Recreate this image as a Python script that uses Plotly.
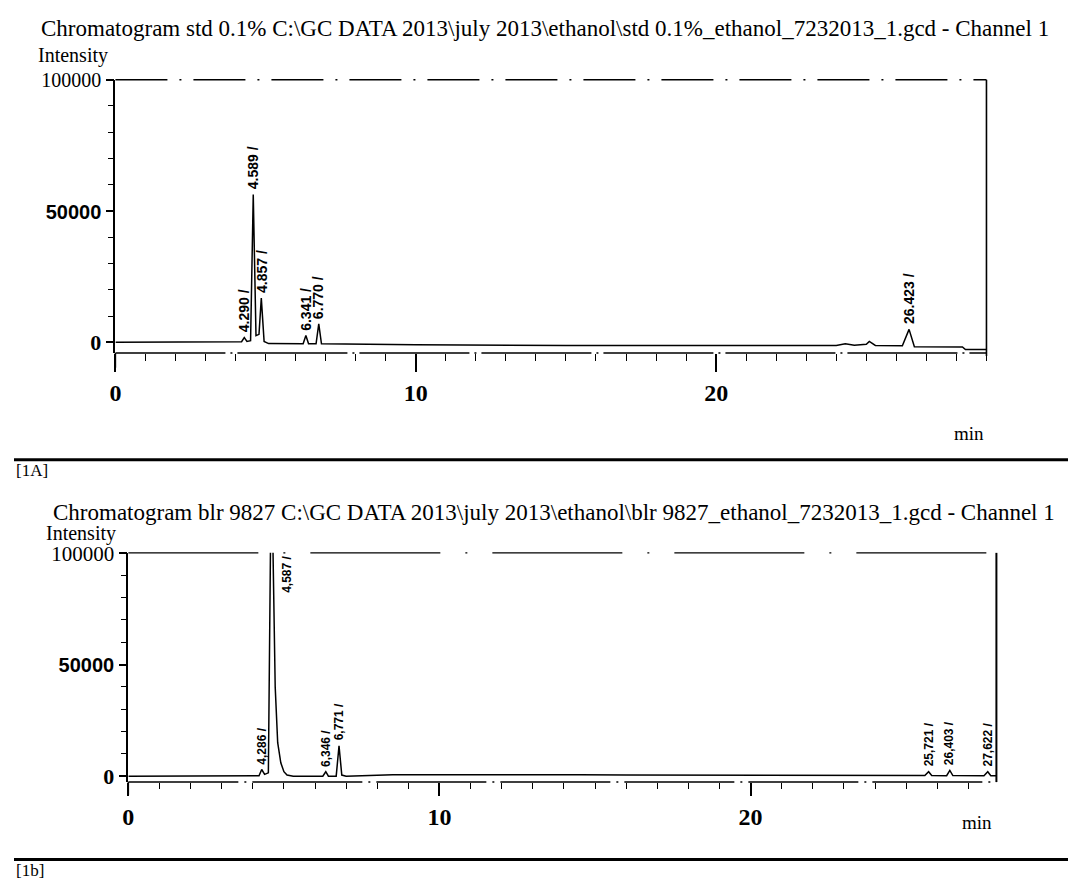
import plotly.graph_objects as go

PAGE_W, PAGE_H = 1076, 896
OFF = 8  # default body margin of the page
W, H = PAGE_W - 2 * OFF, PAGE_H - 2 * OFF

title_a = "Chromatogram std 0.1% C:\\GC DATA 2013\\july 2013\\ethanol\\std 0.1%_ethanol_7232013_1.gcd - Channel 1"
title_b = "Chromatogram blr 9827 C:\\GC DATA 2013\\july 2013\\ethanol\\blr 9827_ethanol_7232013_1.gcd - Channel 1"

# ---- chromatogram A (std 0.1%) : retention time (min) / intensity ----
time_a = [0.0, 2.0, 4.1, 4.2, 4.29, 4.38, 4.5, 4.589, 4.68, 4.78, 4.857, 4.95, 5.1,
          6.0, 6.25, 6.341, 6.43, 6.68, 6.77, 6.86, 8.0, 10.0, 15.0, 20.0,
          24.0, 24.3, 24.6, 25.0, 25.1, 25.3, 26.2, 26.423, 26.6, 28.2, 28.3, 29.05]
int_a = [0, 0, 0, 200, 1800, 300, 600, 56300, 2500, 3000, 16800, 300, -500,
         -600, -600, 2600, -600, -600, 7000, -600, -800, -1000, -1200, -1300,
         -1200, -600, -1100, -800, 300, -1200, -1300, 4900, -1700, -1800, -2800, -2800]

peak_a_t = [4.290, 4.589, 4.857, 6.341, 6.770, 26.423]
peak_a_y = [1800, 56300, 16800, 2600, 7000, 4900]
peak_a_txt = ["4.290 /", "4.589 /", "4.857 /", "6.341 /", "6.770 /", "26.423 /"]

# ---- chromatogram B (blr 9827) ----
time_b = [0.0, 2.0, 4.0, 4.2, 4.286, 4.38, 4.5, 4.587, 4.65, 4.72, 4.8, 4.9, 5.0, 5.1, 5.3,
          6.0, 6.25, 6.346, 6.43, 6.68, 6.771, 6.86, 7.0, 8.5, 10.0, 12.5, 13.0, 13.5, 14.5, 16.0,
          20.0, 25.0, 25.6, 25.721, 25.82, 26.3, 26.403, 26.5, 27.5, 27.622, 27.72, 27.9]
int_b = [0, 0, 0, 200, 3000, 800, 1500, 130000, 100000, 40000, 15000, 6000, 2000, 500, 0,
         0, 0, 2000, 0, 0, 13600, 500, 0, 600, 600, 600, 900, 800, 600, 500,
         400, 300, 300, 2000, 300, 200, 2600, 300, 200, 2000, 200, 200]

peak_b_t = [4.286, 6.346, 6.771, 25.721, 26.403, 27.622]
peak_b_y = [3000, 2000, 13600, 2000, 2600, 2000]
peak_b_txt = ["4,286 /", "6,346 /", "6,771 /", "25,721 /", "26,403 /", "27,622 /"]
main_b_t, main_b_label_y, main_b_txt = 5.1, 81000, "4,587 /"

x_ticks = [0, 10, 20]
y_ticks = [0, 50000, 100000]


def px(x):
    return (x - OFF) / W


def py(y):
    return 1 - (y - OFF) / H


fig = go.Figure()
fig.add_trace(go.Scatter(x=time_a, y=int_a, mode="lines", line=dict(color="black", width=1.5),
                         xaxis="x", yaxis="y", showlegend=False, hoverinfo="skip"))
fig.add_trace(go.Scatter(x=time_b, y=int_b, mode="lines", line=dict(color="black", width=1.5),
                         xaxis="x2", yaxis="y2", showlegend=False, hoverinfo="skip"))

SERIF = "Liberation Serif"
SANS = "Liberation Sans"


def ytext(big):
    return ["<b>0</b>",
            "<span style='font-family:Liberation Sans;font-size:20px'><b>50000</b></span>",
            f"<span style='font-size:{big}px'>100000</span>"]


def xaxis_cfg(domain, rng, major_len, minor_len):
    return dict(domain=domain, range=rng, showline=False, showgrid=False, zeroline=False,
                ticks="outside", tickvals=x_ticks, ticktext=[f"<b>{v}</b>" for v in x_ticks],
                ticklen=major_len, tickwidth=1.5, tickcolor="black",
                tickfont=dict(family=SERIF, size=24, color="black"),
                minor=dict(dtick=1, ticks="outside", ticklen=minor_len, tickwidth=1.2, tickcolor="black"),
                fixedrange=True)


def yaxis_cfg(domain, rng, anchor, big):
    return dict(domain=domain, range=rng, anchor=anchor, showline=True, linecolor="black", linewidth=1.5,
                showgrid=False, zeroline=False, ticks="outside", tickvals=y_ticks, ticktext=ytext(big),
                ticklen=8, tickwidth=1.5, tickcolor="black",
                tickfont=dict(family=SERIF, size=22, color="black"),
                minor=dict(dtick=10000, ticks="outside", ticklen=6, tickwidth=1.2, tickcolor="black"),
                fixedrange=True)


# panel A geometry (page px): x 110..986, frame top 70, axis line 349, zero at 338
xa_dom = [px(110), px(986)]
ya_dom = [py(349), py(70)]
# panel B geometry: x 123..996, frame top 553, axis line 787, zero at 781
xb_dom = [px(123), px(996)]
yb_dom = [py(787), py(553)]

fig.update_layout(
    width=W, height=H, margin=dict(l=0, r=0, t=0, b=0),
    paper_bgcolor="white", plot_bgcolor="white",
    xaxis=dict(**xaxis_cfg(xa_dom, [0, 29.0], 18, 7), anchor="y"),
    yaxis=yaxis_cfg(ya_dom, [-4104, 100000], "x", 20),
    xaxis2=dict(**xaxis_cfg(xb_dom, [0, 27.9], 13, 6), anchor="y2"),
    yaxis2=yaxis_cfg(yb_dom, [-2632, 100000], "x2", 21),
)

shapes = []


def hline(x0, x1, y, w=1.5, dash="solid"):
    shapes.append(dict(type="line", xref="paper", yref="paper", x0=px(x0), x1=px(x1), y0=py(y), y1=py(y),
                       line=dict(color="black", width=w, dash=dash)))


def vline(x, y0, y1, w=1.5):
    shapes.append(dict(type="line", xref="paper", yref="paper", x0=px(x), x1=px(x), y0=py(y0), y1=py(y1),
                       line=dict(color="black", width=w)))


# panel A frame
hline(110, 986, 70, 1.3, "52px,12px,2px,12px")
vline(986, 70, 352, 1.6)
hline(110, 986, 349, 1.5, "110px,5px,2px,5px")
vline(110, 349, 364)
# panel B frame
hline(123, 996, 553, 1.3, "130px,25px,2px,25px")
vline(996, 553, 787, 2)
hline(123, 996, 787, 1.5, "110px,6px,2px,6px")
vline(123, 787, 800)
# separator rules
hline(OFF, PAGE_W, 458, 3)
hline(OFF, PAGE_W, 866, 3)
fig.update_layout(shapes=shapes)

ann = []


def txt(x, y, s, size=20, family=SERIF, xanchor="left", yanchor="middle"):
    ann.append(dict(x=px(x), y=py(y), xref="paper", yref="paper", text=s, showarrow=False,
                    xanchor=xanchor, yanchor=yanchor, font=dict(family=family, size=size, color="black")))


txt(33, 18, title_a, size=23)
txt(30, 45, "Intensity", size=20)
txt(45, 512, title_b, size=23)
txt(38, 533, "Intensity", size=20)
txt(968, 431, "min", size=19, xanchor="center")
txt(976, 828, "min", size=19, xanchor="center")
txt(OFF, 469, "[1A]", size=17)
txt(OFF, 877, "[1b]", size=17)

LBL_A = dict(family=SANS, size=14, color="black")
LBL_B = dict(family=SANS, size=12, color="black")
for t, yv, s in zip(peak_a_t, peak_a_y, peak_a_txt):
    ann.append(dict(x=t, y=yv, xref="x", yref="y", text=f"<b>{s}</b>", showarrow=False, textangle=-90,
                    xanchor="center", yanchor="bottom", yshift=3, font=LBL_A))
for t, yv, s in zip(peak_b_t, peak_b_y, peak_b_txt):
    ann.append(dict(x=t, y=yv, xref="x2", yref="y2", text=f"<b>{s}</b>", showarrow=False, textangle=-90,
                    xanchor="center", yanchor="bottom", yshift=3, font=LBL_B))
ann.append(dict(x=main_b_t, y=main_b_label_y, xref="x2", yref="y2", text=f"<b>{main_b_txt}</b>",
                showarrow=False, textangle=-90, xanchor="center", yanchor="bottom", font=LBL_B))

fig.update_layout(annotations=ann)
fig.write_html("out.html")
